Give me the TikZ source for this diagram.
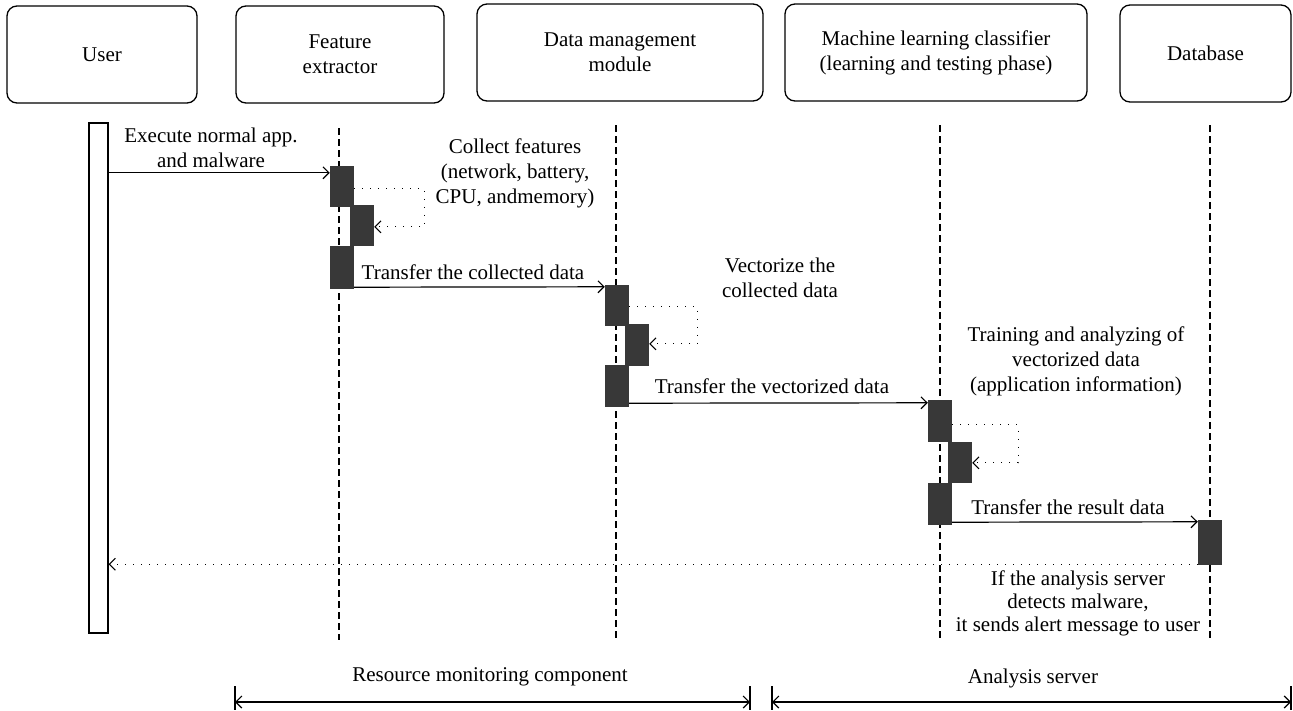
\documentclass[tikz,border=0pt]{standalone}
\usepackage{fontspec}
\setmainfont{Liberation Serif}
\usetikzlibrary{arrows.meta}
\begin{document}
\begin{tikzpicture}[x=1pt,y=-1pt,
  lbl/.style={font=\fontsize{21}{25}\selectfont, align=center, inner sep=0pt},
  actor/.style={draw, rounded corners=10pt, line width=1.3pt, inner sep=0pt, minimum height=97pt},
  exec/.style={fill=black!78, draw=none, minimum width=24pt, inner sep=0pt},
  life/.style={line width=1.1pt, dash pattern=on 7pt off 4pt},
  msg/.style={line width=1.2pt, -{Straight Barb[length=6pt,width=12pt]}},
  selfmsg/.style={line width=1.1pt, dash pattern=on 1.2pt off 6.8pt, -{Straight Barb[length=6pt,width=12pt]}},
  span/.style={line width=1.2pt, {Straight Barb[length=6pt,width=12pt]}-{Straight Barb[length=6pt,width=12pt]}},
  tick/.style={line width=1.2pt},
]
\useasboundingbox (0,0) rectangle (1293,710);

% actor boxes
\node[actor, lbl, minimum width=190pt, minimum height=97pt] (user) at (102,54.5) {User};
\node[actor, lbl, minimum width=208pt, minimum height=97pt] (fe) at (340,54.5) {Feature\\extractor};
\node[actor, lbl, minimum width=286pt, minimum height=97pt] (dm) at (620,52.5) {Data management\\module};
\node[actor, lbl, minimum width=302pt, minimum height=97pt] (ml) at (936,52.5) {Machine learning classifier\\(learning and testing phase)};
\node[actor, lbl, minimum width=171pt, minimum height=97pt] (db) at (1205.5,53.5) {Database};

% lifelines
\coordinate (feTop) at (339,128); \coordinate (feBot) at (339,640);
\coordinate (dmTop) at (616,125); \coordinate (dmBot) at (616,640);
\coordinate (mlTop) at (940,125); \coordinate (mlBot) at (940,640);
\coordinate (dbTop) at (1210,125); \coordinate (dbBot) at (1210,640);
\draw[life] (feTop) -- (feBot);
\draw[life] (dmTop) -- (dmBot);
\draw[life] (mlTop) -- (mlBot);
\draw[life] (dbTop) -- (dbBot);

% user activation bar
\node[draw, fill=white, line width=1.2pt, minimum width=19pt, minimum height=510pt, inner sep=0pt] (userbar) at (98.5,378) {};

% execution boxes
\node[exec, minimum height=41pt] (feA) at (342,186.5) {};
\node[exec, minimum height=41pt] (feB) at (362,225.5) {};
\node[exec, minimum height=43pt] (feC) at (342,267.5) {};
\node[exec, minimum height=41pt] (dmA) at (617,305.5) {};
\node[exec, minimum height=42pt] (dmB) at (637,345) {};
\node[exec, minimum height=42pt] (dmC) at (617,386) {};
\node[exec, minimum height=42pt] (mlA) at (940,421) {};
\node[exec, minimum height=41pt] (mlB) at (960,462.5) {};
\node[exec, minimum height=42pt] (mlC) at (940,504) {};
\node[exec, minimum height=45pt] (dbA) at (1210,542.5) {};

% messages
\coordinate (a1) at ([yshift=-7pt]feA.north west);
\draw[msg] (userbar.east |- a1) -- (a1);
\draw[msg] ([yshift=2pt]feC.south east) -- ([yshift=-2pt]dmA.north west);
\draw[msg] ([yshift=4pt]dmC.south east) -- ([yshift=-3pt]mlA.north west);
\draw[msg] ([yshift=3pt]mlC.south east) -- ([yshift=-2pt]dbA.north west);
\coordinate (r1) at ([yshift=1pt]dbA.south west);
\draw[selfmsg] (r1) -- (userbar.east |- r1);

% self messages
\draw[selfmsg] ([yshift=-23pt]feA.north east) -- ++(70,0) |- ([yshift=-22pt]feB.north east);
\draw[selfmsg] ([yshift=-22pt]dmA.north east) -- ++(68,0) |- ([yshift=-20pt]dmB.north east);
\draw[selfmsg] ([yshift=-25pt]mlA.north east) -- ++(66,0) |- ([yshift=-21pt]mlB.north east);

% labels
\node[lbl] (t1) at (211,148) {Execute normal app.\\and malware};
\node[lbl] (t2) at (515,173) {Collect features\\(network, battery,\\CPU, andmemory)};
\node[lbl] (t3) at (473,272) {Transfer the collected data};
\node[lbl] (t4) at (780,278) {Vectorize the\\collected data};
\node[lbl] (t5) at (772,386) {Transfer the vectorized data};
\node[lbl] (t6) at (1076,361) {Training and analyzing of\\vectorized data\\(application information)};
\node[lbl] (t7) at (1068,507) {Transfer the result data};
\node[lbl, font=\fontsize{21}{23}\selectfont] (t8) at (1078,603) {If the analysis server\\detects malware,\\it sends alert message to user};

% spans
\coordinate (rmL) at (235,702); \coordinate (rmR) at (750,702);
\coordinate (asL) at (772,702); \coordinate (asR) at (1291,702);
\draw[span] (rmL) -- (rmR);
\draw[span] (asL) -- (asR);
\draw[tick] ([yshift=16pt]rmL) -- ([yshift=-8pt]rmL);
\draw[tick] ([yshift=16pt]rmR) -- ([yshift=-8pt]rmR);
\draw[tick] ([yshift=16pt]asL) -- ([yshift=-8pt]asL);
\draw[tick] ([yshift=16pt]asR) -- ([yshift=-8pt]asR);
\node[lbl] (t9) at (490,677) {Resource monitoring component};
\node[lbl] (t10) at (1033,678) {Analysis server};
\end{tikzpicture}
\end{document}
